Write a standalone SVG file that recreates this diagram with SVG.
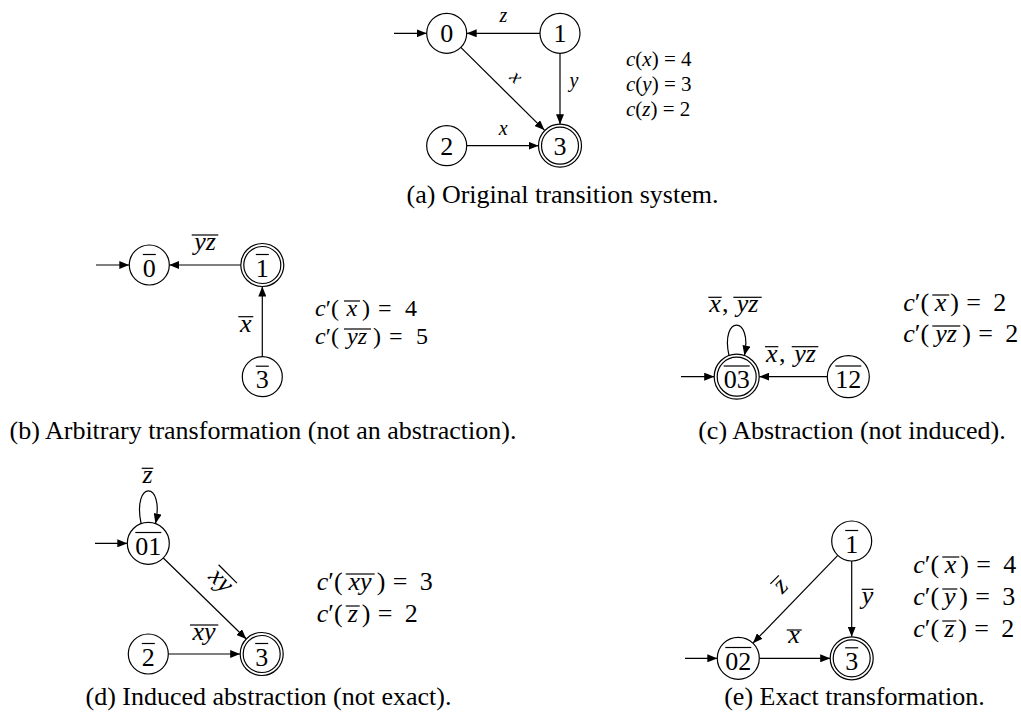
<svg xmlns="http://www.w3.org/2000/svg" width="1021" height="719" viewBox="0 0 1021 719">
<style>
.n circle{fill:#fff;stroke:#000;stroke-width:1.2}
.nl{font-family:'Liberation Serif',serif;font-size:26px;text-anchor:middle;fill:#000}
.ov{stroke:#000;stroke-width:1.2}
.e{fill:none;stroke:#000;stroke-width:1.2;marker-end:url(#ah)}
.m{font-family:'Liberation Serif',serif;fill:#000}
.i{font-style:italic}
.lab{font-size:26px;text-anchor:middle;font-style:italic}
.labA{font-size:20px;text-anchor:middle;font-style:italic}
.cost{font-size:26px}
.costB{font-size:24px}
.costA{font-size:21px}
.cap{font-family:'Liberation Serif',serif;font-size:26px;text-anchor:middle;fill:#000}
</style>
<defs>
<marker id="ah" markerUnits="userSpaceOnUse" markerWidth="10" markerHeight="8" viewBox="0 0 10 8" refX="10" refY="4" orient="auto"><path d="M0,0 L10,4 L0,8 Z" fill="#000"/></marker>
</defs>
<rect width="1021" height="719" fill="#fff"/>

<g id="connectors">
<!-- (a) -->
<path class="e" d="M394,33.3 H426.7"/>
<g><path class="e" d="M540,33.3 H466.7"/><text class="m labA" x="503.3" y="21.7">z</text></g>
<g><path class="e" d="M460.8,47.4 L544.4,130.1"/><g transform="translate(515,78.3) rotate(45)"><text class="m labA" x="0" y="4.5">x</text></g></g>
<g><path class="e" d="M560,53.3 V124.2"/><text class="m labA" x="574" y="87.3">y</text></g>
<g><path class="e" d="M466.7,145.7 H538.5"/><text class="m labA" x="503.3" y="135">x</text></g>
<!-- (b) -->
<path class="e" d="M96,265 H129.3"/>
<g><path class="e" d="M240.8,265 H169.3"/><text class="m lab" x="205" y="250">yz</text><line class="ov" x1="191.7" y1="235" x2="218.3" y2="235"/></g>
<g><path class="e" d="M262.3,356.7 V286.5"/><text class="m lab" x="245.8" y="331.7">x</text><line class="ov" x1="238.3" y1="316.7" x2="253.3" y2="316.7"/></g>
<!-- (c) -->
<path class="e" d="M681,376.7 H714.2"/>
<g><path class="e" d="M729,355.6 C720,315 753,315 744.4,355.6"/>
<text class="m lab" x="715" y="311.7">x</text><text class="m" style="font-size:26px" x="722" y="311.7">,</text><text class="m lab" x="747.5" y="311.7">yz</text>
<line class="ov" x1="708.3" y1="297.3" x2="721.7" y2="297.3"/><line class="ov" x1="733.3" y1="297.3" x2="761.7" y2="297.3"/></g>
<g><path class="e" d="M827.3,376.7 H759.2"/>
<text class="m lab" x="771.7" y="361.7">x</text><text class="m" style="font-size:26px" x="779" y="361.7">,</text><text class="m lab" x="805" y="361.7">yz</text>
<line class="ov" x1="765" y1="346.7" x2="778.3" y2="346.7"/><line class="ov" x1="791.7" y1="346.7" x2="818.3" y2="346.7"/></g>
<!-- (d) -->
<path class="e" d="M95,543.3 H127.3"/>
<g><path class="e" d="M141.1,523.6 C132,480 165,480 155.5,523.6"/><text class="m lab" x="147.5" y="483.3">z</text><line class="ov" x1="141.7" y1="468.3" x2="153.3" y2="468.3"/></g>
<g><path class="e" d="M163.3,558 L246.3,639"/><g transform="translate(220,581.7) rotate(45)"><text class="m lab" x="0" y="6">xy</text><line class="ov" x1="-13" y1="-11" x2="13" y2="-11"/></g></g>
<g><path class="e" d="M168.3,654 H240.2"/><text class="m lab" x="204" y="640">xy</text><line class="ov" x1="190" y1="625" x2="218.3" y2="625"/></g>
<!-- (e) -->
<path class="e" d="M685,658.3 H717.3"/>
<g><path class="e" d="M837.8,555.4 L752.9,643.2"/><g transform="translate(781.7,586.7) rotate(-45)"><text class="m lab" x="0" y="5.8">z</text><line class="ov" x1="-6" y1="-10" x2="6" y2="-10"/></g></g>
<g><path class="e" d="M851.7,561 V636.8"/><text class="m lab" x="867.5" y="604">y</text><line class="ov" x1="861.7" y1="589.3" x2="873.3" y2="589.3"/></g>
<g><path class="e" d="M759.3,658.3 H830.2"/><text class="m lab" x="794" y="643">x</text><line class="ov" x1="786.7" y1="630" x2="801.7" y2="630"/></g>
</g>

<!-- (a) nodes -->
<g id="a0" class="n"><circle cx="446.7" cy="33.3" r="20"/><text class="nl" x="446.7" y="42.1">0</text></g>
<g id="a1" class="n"><circle cx="560" cy="33.3" r="20"/><text class="nl" x="560" y="42.1">1</text></g>
<g id="a2" class="n"><circle cx="446.7" cy="145.7" r="20"/><text class="nl" x="446.7" y="154.5">2</text></g>
<g id="a3" class="n"><circle cx="560" cy="145.7" r="21.5"/><circle cx="560" cy="145.7" r="18.5"/><text class="nl" x="560" y="154.5">3</text></g>
<g id="acost">
<text class="m costA" x="626" y="66"><tspan class="i">c</tspan>(<tspan class="i">x</tspan>) = 4</text>
<text class="m costA" x="626" y="91"><tspan class="i">c</tspan>(<tspan class="i">y</tspan>) = 3</text>
<text class="m costA" x="626" y="116"><tspan class="i">c</tspan>(<tspan class="i">z</tspan>) = 2</text>
</g>
<text class="cap" x="562.5" y="203">(a) Original transition system.</text>

<!-- (b) nodes -->
<g id="b0" class="n"><circle cx="149.3" cy="265" r="20"/><text class="nl" x="149.3" y="276.7">0</text><line class="ov" x1="142.8" y1="254.5" x2="155.8" y2="254.5"/></g>
<g id="b1" class="n"><circle cx="262.3" cy="265" r="21.5"/><circle cx="262.3" cy="265" r="18.5"/><text class="nl" x="262.3" y="276.7">1</text><line class="ov" x1="255.8" y1="254.5" x2="268.8" y2="254.5"/></g>
<g id="b3" class="n"><circle cx="262.3" cy="376.7" r="20"/><text class="nl" x="262.3" y="388.4">3</text><line class="ov" x1="255.8" y1="366.2" x2="268.8" y2="366.2"/></g>
<g id="bcost">
<text class="m costB" y="316"><tspan x="315" class="i">c</tspan><tspan>′(</tspan><tspan x="346.5" class="i">x</tspan><tspan x="362">)</tspan><tspan x="378">=</tspan><tspan x="405">4</tspan></text>
<line class="ov" x1="344" y1="301" x2="360" y2="301"/>
<text class="m costB" y="344"><tspan x="315" class="i">c</tspan><tspan>′(</tspan><tspan x="347" class="i">yz</tspan><tspan x="373">)</tspan><tspan x="389">=</tspan><tspan x="416">5</tspan></text>
<line class="ov" x1="344" y1="329" x2="371" y2="329"/>
</g>
<text class="cap" x="263" y="439">(b) Arbitrary transformation (not an abstraction).</text>

<!-- (c) nodes -->
<g id="c03" class="n"><circle cx="736.7" cy="376.7" r="22.5"/><circle cx="736.7" cy="376.7" r="19.5"/><text class="nl" x="736.7" y="388.4">03</text><line class="ov" x1="723.7" y1="366" x2="749.7" y2="366"/></g>
<g id="c12" class="n"><circle cx="848.3" cy="376.7" r="21"/><text class="nl" x="848.3" y="388.4">12</text><line class="ov" x1="835.3" y1="366" x2="861.3" y2="366"/></g>
<g id="ccost">
<text class="m cost" y="311"><tspan x="903.3" class="i">c</tspan><tspan>′(</tspan><tspan x="934.8" class="i">x</tspan><tspan x="950.3">)</tspan><tspan x="966.3">=</tspan><tspan x="993.3">2</tspan></text>
<line class="ov" x1="932.3" y1="295" x2="949.3" y2="295"/>
<text class="m cost" y="342"><tspan x="903.3" class="i">c</tspan><tspan>′(</tspan><tspan x="935.3" class="i">yz</tspan><tspan x="962.3">)</tspan><tspan x="978.3">=</tspan><tspan x="1005.3">2</tspan></text>
<line class="ov" x1="932.3" y1="326" x2="960.3" y2="326"/>
</g>
<text class="cap" x="852" y="439">(c) Abstraction (not induced).</text>

<!-- (d) nodes -->
<g id="d01" class="n"><circle cx="148.3" cy="543.3" r="21"/><text class="nl" x="148.3" y="555">01</text><line class="ov" x1="135.3" y1="532.5" x2="161.3" y2="532.5"/></g>
<g id="d2" class="n"><circle cx="148.3" cy="654" r="20"/><text class="nl" x="148.3" y="665.7">2</text><line class="ov" x1="141.8" y1="643.5" x2="154.8" y2="643.5"/></g>
<g id="d3" class="n"><circle cx="261.7" cy="654" r="21.5"/><circle cx="261.7" cy="654" r="18.5"/><text class="nl" x="261.7" y="665.7">3</text><line class="ov" x1="255.2" y1="643.5" x2="268.2" y2="643.5"/></g>
<g id="dcost">
<text class="m cost" y="590"><tspan x="316.7" class="i">c</tspan><tspan>′(</tspan><tspan x="348.5" class="i">xy</tspan><tspan x="376.7">)</tspan><tspan x="392.7">=</tspan><tspan x="419.7">3</tspan></text>
<line class="ov" x1="345.7" y1="574" x2="374.7" y2="574"/>
<text class="m cost" y="622"><tspan x="316.7" class="i">c</tspan><tspan>′(</tspan><tspan x="347.7" class="i">z</tspan><tspan x="361.7">)</tspan><tspan x="377.7">=</tspan><tspan x="404.7">2</tspan></text>
<line class="ov" x1="345.7" y1="606" x2="359.7" y2="606"/>
</g>
<text class="cap" x="268.5" y="705">(d) Induced abstraction (not exact).</text>

<!-- (e) nodes -->
<g id="e1" class="n"><circle cx="851.7" cy="541" r="20"/><text class="nl" x="851.7" y="552.7">1</text><line class="ov" x1="845.2" y1="530.5" x2="858.2" y2="530.5"/></g>
<g id="e02" class="n"><circle cx="738.3" cy="658.3" r="21"/><text class="nl" x="738.3" y="670">02</text><line class="ov" x1="725.3" y1="647.5" x2="751.3" y2="647.5"/></g>
<g id="e3" class="n"><circle cx="851.7" cy="658.3" r="21.5"/><circle cx="851.7" cy="658.3" r="18.5"/><text class="nl" x="851.7" y="670">3</text><line class="ov" x1="845.2" y1="647.8" x2="858.2" y2="647.8"/></g>
<g id="ecost">
<text class="m cost" y="573"><tspan x="913.3" class="i">c</tspan><tspan>′(</tspan><tspan x="944.8" class="i">x</tspan><tspan x="960.3">)</tspan><tspan x="976.3">=</tspan><tspan x="1003.3">4</tspan></text>
<line class="ov" x1="942.3" y1="557" x2="959.3" y2="557"/>
<text class="m cost" y="605"><tspan x="913.3" class="i">c</tspan><tspan>′(</tspan><tspan x="944" class="i">y</tspan><tspan x="959.3">)</tspan><tspan x="975.3">=</tspan><tspan x="1002.3">3</tspan></text>
<line class="ov" x1="942.3" y1="589" x2="957.3" y2="589"/>
<text class="m cost" y="637"><tspan x="913.3" class="i">c</tspan><tspan>′(</tspan><tspan x="944.3" class="i">z</tspan><tspan x="958.3">)</tspan><tspan x="974.3">=</tspan><tspan x="1001.3">2</tspan></text>
<line class="ov" x1="942.3" y1="621" x2="956.3" y2="621"/>
</g>
<text class="cap" x="854.5" y="705">(e) Exact transformation.</text>
</svg>
